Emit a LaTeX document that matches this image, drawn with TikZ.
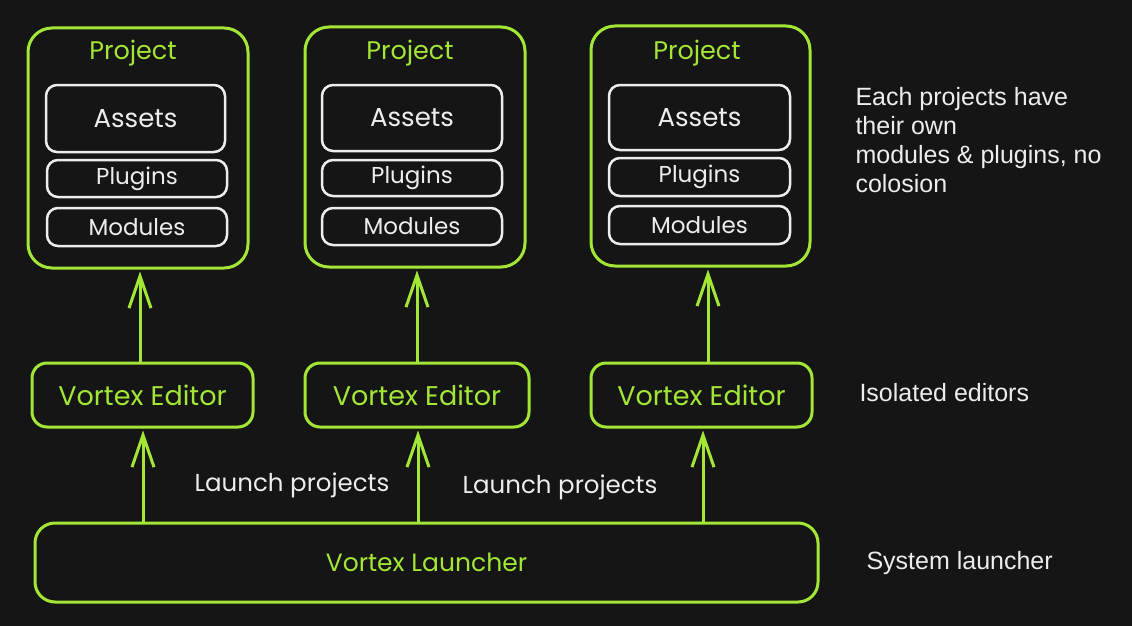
\documentclass[tikz,border=0pt]{standalone}
\usepackage{fontspec}
\setmainfont{Liberation Sans}
\newfontfamily\handfont{Poppins}
\usetikzlibrary{arrows.meta}
\definecolor{bg}{HTML}{151515}
\definecolor{lime}{HTML}{A3E635}
\definecolor{fg}{HTML}{EDEDED}
\tikzset{
  projbox/.style={draw=lime, line width=3pt, rounded corners=24pt, minimum width=#1, minimum height=240pt},
  innerbox/.style={draw=fg, line width=2.5pt, rounded corners=11pt, text=fg, font=\handfont\fontsize{23}{26}\selectfont, inner sep=0pt},
  bigtext/.style={font=\handfont\fontsize{26}{28}\selectfont},
  edbox/.style={draw=lime, line width=3pt, rounded corners=15pt, text=lime, font=\handfont\fontsize{27}{30}\selectfont, minimum height=64pt, inner sep=0pt},
  greenlbl/.style={text=lime, font=\handfont\fontsize{25.5}{28}\selectfont},
  whitelbl/.style={text=fg, font=\handfont\fontsize{24.5}{28}\selectfont},
  note/.style={text=fg, font=\fontsize{25}{29}\selectfont, align=left, anchor=west},
  arr/.style={draw=lime, line width=3pt, -{Straight Barb[length=32pt,width=22pt,line width=3pt]}, shorten >=2pt},
}
\begin{document}
\begin{tikzpicture}[x=1pt,y=-1pt]
\fill[bg] (0,0) rectangle (1132,626);
\useasboundingbox (0,0) rectangle (1132,626);

% project boxes
\node[projbox=220pt] (p1) at (138,148) {};
\node[projbox=220pt] (p2) at (415,147) {};
\node[projbox=219pt] (p3) at (700.5,146) {};
\node[greenlbl] (p1l) at (133,53) {Project};
\node[greenlbl] (p2l) at (410,53) {Project};
\node[greenlbl] (p3l) at (697,53) {Project};

% inner boxes
\node[innerbox, bigtext, minimum width=179pt, minimum height=67pt] (a1) at (135.5,118.5) {Assets};
\node[innerbox, minimum width=180pt, minimum height=37pt] (pl1) at (137,178.5) {Plugins};
\node[innerbox, minimum width=180pt, minimum height=38pt] (m1) at (137,227) {Modules};

\node[innerbox, bigtext, minimum width=180pt, minimum height=66pt] (a2) at (412,118) {Assets};
\node[innerbox, minimum width=180pt, minimum height=36pt] (pl2) at (412,178) {Plugins};
\node[innerbox, minimum width=180pt, minimum height=37pt] (m2) at (412,226.5) {Modules};

\node[innerbox, bigtext, minimum width=181pt, minimum height=65pt] (a3) at (699.5,117.5) {Assets};
\node[innerbox, minimum width=181pt, minimum height=38pt] (pl3) at (699.5,177) {Plugins};
\node[innerbox, minimum width=181pt, minimum height=38pt] (m3) at (699.5,225) {Modules};

% editors
\node[edbox, minimum width=221pt] (e1) at (142.5,395) {Vortex Editor};
\node[edbox, minimum width=224pt] (e2) at (417,395) {Vortex Editor};
\node[edbox, minimum width=221pt] (e3) at (701.5,395) {Vortex Editor};

% launcher
\node[draw=lime, line width=3pt, rounded corners=20pt, minimum width=783pt, minimum height=79pt, text=lime, font=\handfont\fontsize{25}{28}\selectfont] (L) at (426.5,562.5) {Vortex Launcher};

% arrows launcher -> editors
\coordinate (s1) at (143,523);
\coordinate (s2) at (418,523);
\coordinate (s3) at (703,523);
\draw[arr] (s1) -- (s1 |- e1.south);
\draw[arr] (s2) -- (s2 |- e2.south);
\draw[arr] (s3) -- (s3 |- e3.south);

% arrows editors -> projects
\coordinate (t1) at (140,363);
\coordinate (t2) at (417,362);
\coordinate (t3) at (708,362);
\draw[arr] (t1) -- (t1 |- p1.south);
\draw[arr] (t2) -- (t2 |- p2.south);
\draw[arr] (t3) -- (t3 |- p3.south);

% launch labels
\node[whitelbl] (ll1) at (292,485) {Launch projects};
\node[whitelbl] (ll2) at (560,487) {Launch projects};

% notes
\node[note] (n1) at (852,140) {Each projects have\\their own\\modules \& plugins, no\\colosion};
\node[note] (n2) at (856,393) {Isolated editors};
\node[note] (n3) at (863,563) {System launcher};
\end{tikzpicture}
\end{document}
